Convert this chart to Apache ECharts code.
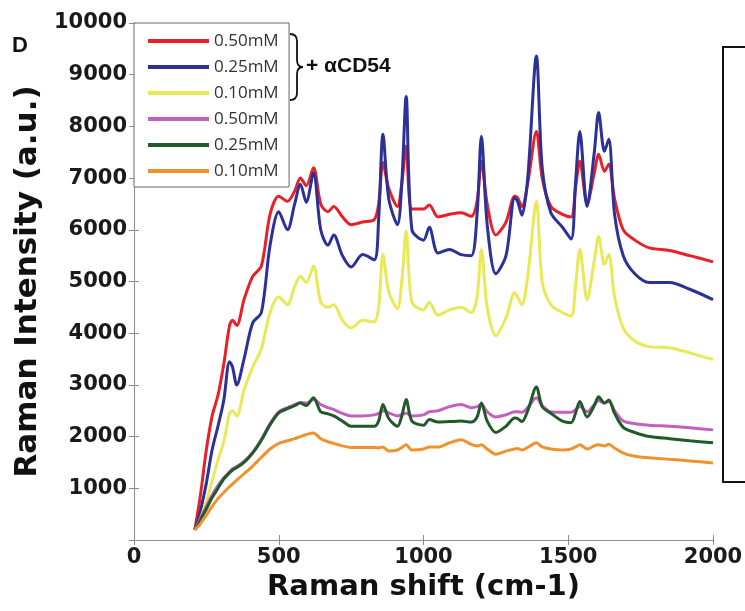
<!DOCTYPE html>
<html>
<head>
<meta charset="utf-8">
<script src="https://cdn.jsdelivr.net/npm/echarts@6/dist/echarts.min.js"></script>
<style>
  html, body { margin: 0; padding: 0; background: #fff; }
  #chart { width: 745px; height: 611px; }
</style>
</head>
<body>
<div id="chart"></div>
<script>
// Raman shift (cm-1), shared by every spectrum
const shift = [210, 225, 235, 250, 270, 290, 310, 330, 340, 355,
  380, 410, 440, 470, 500, 530, 555, 575, 595, 620,
  645, 670, 690, 720, 750, 790, 830, 845, 860, 880,
  910, 925, 940, 960, 1000, 1020, 1050, 1090, 1130, 1165,
  1185, 1200, 1220, 1250, 1285, 1315, 1325, 1340, 1360, 1390,
  1410, 1440, 1480, 1510, 1525, 1540, 1565, 1590, 1605, 1625,
  1640, 1660, 1690, 1730, 1780, 1850, 1920, 2000]

const red050 = [200, 700, 1100, 1750, 2400, 2800, 3400, 4150, 4250, 4150,
  4650, 5100, 5300, 6300, 6650, 6550, 6750, 7000, 6850, 7200,
  6500, 6350, 6450, 6250, 6100, 6150, 6200, 6500, 7300, 6800,
  6450, 6900, 7620, 6400, 6400, 6480, 6250, 6300, 6330, 6260,
  6550, 7330, 6500, 5900, 6150, 6650, 6620, 6450, 6900, 7900,
  7000, 6450, 6300, 6250, 6800, 7330, 6500, 7100, 7460, 7130,
  7270, 6600, 6000, 5800, 5650, 5600, 5500, 5380]

const blue025 = [200, 450, 700, 1100, 1750, 2200, 2700, 3450, 3350, 3000,
  3500, 4200, 4400, 5700, 6350, 6000, 6500, 6880, 6530, 7100,
  6000, 5700, 5900, 5500, 5280, 5520, 5420, 6200, 7850, 6600,
  6100, 6900, 8580, 6000, 5800, 6050, 5550, 5620, 5520, 5500,
  6300, 7810, 6100, 5150, 5500, 6620, 6550, 6280, 7000, 9360,
  7200, 6330, 6050, 5820, 6900, 7900, 6450, 7500, 8270, 7520,
  7750, 6300, 5500, 5150, 4980, 4980, 4850, 4650]

const yellow010 = [200, 350, 500, 750, 1150, 1550, 1900, 2450, 2500, 2400,
  2900, 3350, 3700, 4400, 4700, 4550, 4900, 5100, 4980, 5300,
  4600, 4500, 4550, 4250, 4100, 4250, 4220, 4500, 5520, 4800,
  4480, 5000, 5970, 4600, 4450, 4600, 4350, 4450, 4500, 4400,
  4700, 5620, 4500, 3950, 4300, 4780, 4700, 4550, 5100, 6550,
  5000, 4550, 4400, 4330, 4900, 5620, 4650, 5400, 5870, 5330,
  5520, 4700, 4100, 3850, 3740, 3720, 3620, 3490]

const magenta050 = [200, 350, 480, 650, 870, 1050, 1200, 1320, 1380, 1420,
  1520, 1700, 1950, 2250, 2480, 2560, 2620, 2660, 2650, 2720,
  2620, 2560, 2520, 2450, 2400, 2400, 2420, 2450, 2500, 2460,
  2400, 2430, 2450, 2400, 2420, 2480, 2500, 2580, 2620, 2560,
  2580, 2620, 2480, 2380, 2420, 2480, 2480, 2470, 2560, 2750,
  2600, 2480, 2470, 2470, 2520, 2580, 2480, 2620, 2700, 2650,
  2680, 2500, 2300, 2250, 2220, 2200, 2170, 2130]

const green025 = [200, 330, 450, 600, 820, 1000, 1180, 1300, 1350, 1400,
  1500, 1680, 1930, 2230, 2460, 2540, 2600, 2650, 2600, 2750,
  2480, 2440, 2400, 2300, 2200, 2200, 2200, 2300, 2620, 2350,
  2200, 2400, 2720, 2300, 2220, 2330, 2280, 2290, 2300, 2280,
  2380, 2650, 2300, 2080, 2200, 2360, 2350, 2290, 2500, 2960,
  2580, 2450, 2300, 2270, 2450, 2680, 2380, 2600, 2770, 2650,
  2710, 2450, 2180, 2080, 2000, 1960, 1920, 1880]

const orange010 = [200, 280, 360, 480, 650, 800, 920, 1030, 1080, 1160,
  1280, 1430, 1600, 1760, 1870, 1920, 1960, 2000, 2040, 2070,
  1960, 1900, 1870, 1820, 1790, 1790, 1790, 1780, 1800, 1720,
  1740, 1790, 1840, 1740, 1760, 1800, 1800, 1880, 1940, 1850,
  1820, 1840, 1760, 1660, 1720, 1760, 1770, 1740, 1790, 1880,
  1800, 1760, 1740, 1760, 1800, 1840, 1760, 1820, 1840, 1820,
  1850, 1780, 1680, 1620, 1590, 1560, 1530, 1490]

const names = ['0.50mM', '0.25mM', '0.10mM', '0.50mM ', '0.25mM ', '0.10mM ']
const colors = ['#e8202a', '#2b3196', '#e9e957', '#c25fc0', '#1f5a28', '#f0922b']
const spectra = [red050, blue025, yellow010, magenta050, green025, orange010]

const chart = echarts.init(document.getElementById('chart'))

const axisGray = '#8c8c8c'
const tickFont = { fontFamily: 'DejaVu Sans', fontWeight: 'bold', fontSize: 21, color: '#1a1a1a' }
const braceStyle = { stroke: '#111', lineWidth: 1.8, fill: null }

chart.setOption({
  animation: false,
  grid: { left: 134, right: 32, top: 23, bottom: 71, outerBoundsMode: 'none' },
  legend: {
    orient: 'vertical',
    left: 134,
    top: 23,
    padding: [9, 6, 7, 14],
    itemGap: 8,
    itemWidth: 61,
    itemHeight: 4,
    icon: 'rect',
    borderColor: '#666',
    borderWidth: 1,
    backgroundColor: '#fff',
    textStyle: { fontFamily: 'Open Sans', fontSize: 17, color: '#333', lineHeight: 18 },
    data: names
  },
  xAxis: [{
    type: 'value',
    min: 0,
    max: 2000,
    interval: 500,
    name: 'Raman shift (cm-1)',
    nameLocation: 'middle',
    nameGap: 32,
    nameTextStyle: { fontFamily: 'DejaVu Sans', fontWeight: 'bold', fontSize: 29, color: '#111' },
    axisLine: { lineStyle: { color: axisGray, width: 1 } },
    axisTick: { inside: true, length: 5, lineStyle: { color: axisGray } },
    axisLabel: Object.assign({ margin: 7, formatter: v => String(v) }, tickFont),
    splitLine: { show: false }
  }, {
    type: 'value',
    position: 'top',
    min: 0,
    max: 2000,
    interval: 500,
    axisLine: { show: true, lineStyle: { color: axisGray, width: 1 } },
    axisTick: { inside: true, length: 5, lineStyle: { color: axisGray } },
    axisLabel: { show: false },
    splitLine: { show: false }
  }],
  yAxis: [{
    type: 'value',
    min: 0,
    max: 10000,
    interval: 1000,
    name: 'Raman Intensity (a.u.)',
    nameLocation: 'middle',
    nameGap: 78,
    nameTextStyle: { fontFamily: 'DejaVu Sans', fontWeight: 'bold', fontSize: 31, color: '#111' },
    axisLine: { show: true, lineStyle: { color: axisGray, width: 1 } },
    axisTick: { inside: true, length: 5, lineStyle: { color: axisGray } },
    axisLabel: Object.assign({
      margin: 7,
      formatter: v => (v === 0 ? '' : String(v))
    }, tickFont),
    splitLine: { show: false }
  }, {
    type: 'value',
    position: 'right',
    min: 0,
    max: 10000,
    interval: 1000,
    axisLine: { show: true, lineStyle: { color: axisGray, width: 1 } },
    axisTick: { inside: true, length: 5, lineStyle: { color: axisGray } },
    axisLabel: { show: false },
    splitLine: { show: false }
  }],
  series: spectra.map((vals, i) => ({
    name: names[i],
    type: 'line',
    smooth: 0.3,
    symbol: 'none',
    color: colors[i],
    lineStyle: { width: 3, color: colors[i] },
    data: shift.map((x, j) => [x, vals[j]])
  })),
  graphic: [
    {
      type: 'text',
      x: 12,
      y: 35,
      style: { text: 'D', fontFamily: 'Liberation Sans', fontWeight: 'bold', fontSize: 22, fill: '#111' }
    },
    // brace next to the first three legend rows
    { type: 'bezierCurve', shape: { x1: 290, y1: 34, cpx1: 297, cpy1: 34, x2: 297, y2: 41 }, style: braceStyle },
    { type: 'line', shape: { x1: 297, y1: 41, x2: 297, y2: 60 }, style: braceStyle },
    { type: 'bezierCurve', shape: { x1: 297, y1: 60, cpx1: 297, cpy1: 67, x2: 303, y2: 67 }, style: braceStyle },
    { type: 'bezierCurve', shape: { x1: 303, y1: 67, cpx1: 297, cpy1: 67, x2: 297, y2: 74 }, style: braceStyle },
    { type: 'line', shape: { x1: 297, y1: 74, x2: 297, y2: 93 }, style: braceStyle },
    { type: 'bezierCurve', shape: { x1: 297, y1: 93, cpx1: 297, cpy1: 100, x2: 290, y2: 100 }, style: braceStyle },
    {
      type: 'text',
      x: 306,
      y: 56,
      style: { text: '+ αCD54', fontFamily: 'Liberation Sans', fontWeight: 'bold', fontSize: 21, fill: '#111' }
    },
    {
      type: 'rect',
      shape: { x: 723, y: 47, width: 40, height: 435 },
      style: { stroke: '#111', lineWidth: 2, fill: null }
    }
  ]
})
</script>
</body>
</html>
